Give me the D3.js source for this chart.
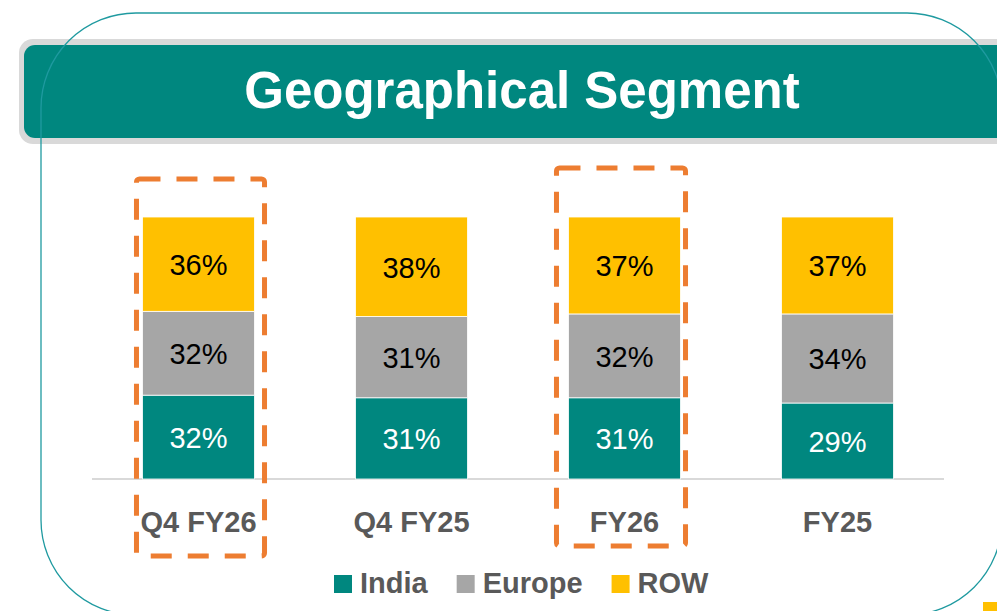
<!DOCTYPE html>
<html>
<head>
<meta charset="utf-8">
<script src="https://cdn.jsdelivr.net/npm/d3@7"></script>
<style>
  body { margin: 0; background: #fff; }
  svg { display: block; font-family: "Liberation Sans", Arial, sans-serif; }
</style>
</head>
<body>
<div id="main-svg"></div>
<script>
// chart data
var categories = ["Q4 FY26", "Q4 FY25", "FY26", "FY25"];
var series = ["India", "Europe", "ROW"];
var india  = [32, 31, 31, 29];
var europe = [32, 31, 32, 34];
var row    = [36, 38, 37, 37];
var highlighted = ["Q4 FY26", "FY26"];

var colors = { India: "#00877F", Europe: "#A6A6A6", ROW: "#FFC000" };
var textColors = { India: "#ffffff", Europe: "#000000", ROW: "#000000" };

var width = 997, height = 611;

var table = categories.map(function(c, i) {
  return { cat: c, India: india[i], Europe: europe[i], ROW: row[i] };
});

var svg = d3.select("#main-svg")
  .append("svg")
  .attr("width", width)
  .attr("height", height);

// header band
svg.append("rect")
  .attr("x", 19).attr("y", 39)
  .attr("width", 1010).attr("height", 105)
  .attr("rx", 14)
  .attr("fill", "#d9d9d9");
svg.append("rect")
  .attr("x", 24).attr("y", 45)
  .attr("width", 1000).attr("height", 93)
  .attr("rx", 11)
  .attr("fill", "#00877F");
svg.append("text")
  .attr("x", 522).attr("y", 108)
  .attr("text-anchor", "middle")
  .attr("fill", "#fff")
  .style("font-size", "51px")
  .style("font-weight", "bold")
  .text("Geographical Segment");

// thin rounded panel outline (runs over the header)
svg.append("rect")
  .attr("x", 41).attr("y", 13)
  .attr("width", 961).attr("height", 602)
  .attr("rx", 95)
  .attr("fill", "none")
  .attr("stroke", "#1f9aa0")
  .attr("stroke-width", 1.3);

var x = d3.scaleBand()
  .domain(categories)
  .range([92, 944])
  .paddingInner(0.474)
  .paddingOuter(0.237);

var y = d3.scaleLinear()
  .domain([0, 100])
  .range([479, 217]);

var stack = d3.stack().keys(series)(table);

// baseline
svg.append("line")
  .attr("x1", x.range()[0]).attr("x2", x.range()[1])
  .attr("y1", y(0)).attr("y2", y(0))
  .attr("stroke", "#d9d9d9")
  .attr("stroke-width", 2);

var layers = svg.selectAll("g.layer")
  .data(stack)
  .enter().append("g")
  .attr("class", "layer");

layers.selectAll("rect")
  .data(function(d) { return d.map(function(p) { return { key: d.key, p: p }; }); })
  .enter().append("rect")
  .attr("x", function(d) { return x(d.p.data.cat); })
  .attr("width", x.bandwidth())
  .attr("y", function(d) { return y(d.p[1]); })
  .attr("height", function(d) { return y(d.p[0]) - y(d.p[1]); })
  .attr("fill", function(d) { return colors[d.key]; })
  .attr("stroke", "#ffffff")
  .attr("stroke-width", 0.8);

layers.selectAll("text")
  .data(function(d) { return d.map(function(p) { return { key: d.key, p: p }; }); })
  .enter().append("text")
  .attr("x", function(d) { return x(d.p.data.cat) + x.bandwidth() / 2; })
  .attr("y", function(d) { return (y(d.p[0]) + y(d.p[1])) / 2 + 11; })
  .attr("text-anchor", "middle")
  .attr("fill", function(d) { return textColors[d.key]; })
  .style("font-size", "29px")
  .text(function(d) { return (d.p[1] - d.p[0]) + "%"; });

// category labels
svg.selectAll("text.cat")
  .data(categories)
  .enter().append("text")
  .attr("class", "cat")
  .attr("x", function(d) { return x(d) + x.bandwidth() / 2; })
  .attr("y", 532)
  .attr("text-anchor", "middle")
  .attr("fill", "#595959")
  .style("font-size", "29px")
  .style("font-weight", "bold")
  .text(function(d) { return d; });

// dashed highlight boxes
var boxNudge = [
  { left: 6, right: 10, top: 38, bottom: 77 },
  { left: 12, right: 5, top: 49, bottom: 67 }
];
svg.selectAll("rect.hl")
  .data(highlighted)
  .enter().append("rect")
  .attr("class", "hl")
  .attr("x", function(d, i) { return x(d) - boxNudge[i].left; })
  .attr("y", function(d, i) { return y(100) - boxNudge[i].top; })
  .attr("width", function(d, i) { return x.bandwidth() + boxNudge[i].left + boxNudge[i].right; })
  .attr("height", function(d, i) { return y(0) - y(100) + boxNudge[i].top + boxNudge[i].bottom; })
  .attr("rx", 3)
  .attr("fill", "none")
  .attr("stroke", "#ED7D31")
  .attr("stroke-width", 5)
  .attr("stroke-dasharray", "21 16");

// legend
var legend = svg.append("g").attr("transform", "translate(334,575)");
var lx = 0;
series.forEach(function(s) {
  legend.append("rect")
    .attr("x", lx).attr("y", 0)
    .attr("width", 18).attr("height", 18)
    .attr("fill", colors[s]);
  var t = legend.append("text")
    .attr("x", lx + 26).attr("y", 18)
    .attr("fill", "#595959")
    .style("font-size", "29px")
    .style("font-weight", "bold")
    .text(s);
  lx += 26 + t.node().getComputedTextLength() + 29;
});

// clipped legend swatch at lower right edge
svg.append("rect")
  .attr("x", 983).attr("y", 602)
  .attr("width", 20).attr("height", 20)
  .attr("fill", colors.ROW);
</script>
</body>
</html>
